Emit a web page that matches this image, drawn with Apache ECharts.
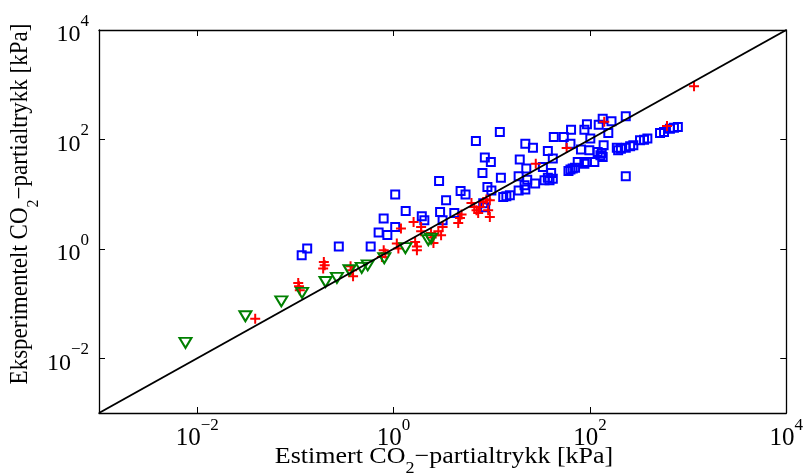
<!DOCTYPE html>
<html>
<head>
<meta charset="utf-8">
<script src="https://cdn.jsdelivr.net/npm/echarts@6/dist/echarts.min.js"></script>
<style>
  html, body { margin: 0; padding: 0; background: #fff; }
  #chart { width: 806px; height: 476px; }
</style>
</head>
<body>
<div id="chart"></div>
<script>
// Estimated vs. measured CO2 partial pressure [kPa], three data groups
const blueX = [0.116, 0.132, 0.277, 0.585, 0.705, 0.865, 0.793, 1.04, 1.04, 1.33, 1.94, 2.06, 2.91, 2.98, 3.16, 3.43, 4.16, 4.82, 5.41,
  6.90, 12.1, 8.51, 9.8, 8.05, 12.4, 9.04, 9.93, 8.19, 8.57,
  13.1, 14.1, 15.3,
  18.8, 22.0, 19.3, 22.0, 26.3, 22.5, 18.8, 23.0, 27.7, 21.6, 34.5, 33.2,
  37.3, 38.8, 41.9, 40.3,
  37.3, 41.9, 42.9, 54.2, 64.3, 63.4,
  60.5, 63.4, 66.8, 70.6,
  75.2, 81.1, 87.9, 93.3, 87.9, 93.3, 101, 98.7, 111,
  120, 128, 135, 132, 138, 123, 135, 166, 154,
  188, 194, 207, 232, 257,
  232, 232, 277, 324, 356, 385, 518, 569, 653, 718, 787];
const blueY = [0.764, 1.01, 1.11, 1.11, 1.99, 1.80, 3.57, 2.51, 9.9, 4.92, 3.94, 3.32, 17.4, 4.72, 3.33, 7.73, 4.53, 11.4, 9.9,
  93.5, 136, 46.6, 38.7, 24.3, 20.0, 13.5, 11.7, 6.8, 5.75,
  8.87, 9.14, 9.53,
  11.7, 12.1, 42.8, 83.8, 70.8, 29.3, 21.2, 18.4, 15.6, 14.5, 17.9, 31.3,
  20.0, 17.9, 19.2, 24.3,
  61.4, 44.6, 111, 111, 151, 83.8,
  26.5, 28.1, 29.3, 30.5,
  38.7, 65.2, 36.1, 38.7, 151, 189, 104, 63.1, 38.7,
  58.9, 51.3, 47.8, 56.4, 78.0, 186, 240, 214, 131,
  70.8, 63.1, 67.9, 70.8, 74.8,
  21.2, 264, 78.0, 96.4, 99.1, 104, 131, 136, 157, 164, 169];

const redX = [0.039, 0.107, 0.109, 0.111, 0.195, 0.199, 0.192, 0.365, 0.379, 0.387,
  0.762, 0.794, 0.824, 1.08, 1.12, 1.19, 1.60, 1.66, 1.73, 1.73, 1.91, 1.91,
  2.41, 2.45, 2.55, 2.86, 3.05, 3.16, 4.56, 4.75, 4.93,
  6.22, 6.64, 7.0, 7.57, 8.18, 8.83, 9.57, 9.2, 9.57, 7.28,
  28.1, 58, 140, 610, 1150];
const redY = [0.053, 0.238, 0.207, 0.175, 0.577, 0.50, 0.436, 0.481, 0.406, 0.316,
  0.711, 0.942, 0.82, 1.25, 1.01, 2.35, 3.10, 1.34, 1.11, 0.94, 2.51, 2.10,
  1.95, 1.61, 1.28, 2.10, 1.77, 2.51, 2.97, 3.66, 4.24,
  6.89, 5.82, 5.07, 5.82, 7.2, 7.94, 7.73, 5.07, 3.83, 4.53,
  36.1, 70, 210, 176, 940];

const greenX = [0.0076, 0.031, 0.072, 0.117, 0.203, 0.265, 0.356, 0.474, 0.546, 0.805, 1.32, 2.26, 2.41];
const greenY = [0.0191, 0.0587, 0.110, 0.157, 0.248, 0.294, 0.406, 0.448, 0.50, 0.673, 1.03, 1.44, 1.54];

// Parity line y = x across the full axis range
const parityLine = [0.001, 10000];

const axisMin = 0.001;
const axisMax = 10000;
const tickValues = [0.01, 1, 100];
const labelValues = [0.01, 1, 100, 10000];

const pairs = (xs, ys) => xs.map((x, i) => [x, ys[i]]);

const serif = '"Liberation Serif", "Times New Roman", serif';

function powLabel(v) {
  const e = Math.round(Math.log10(v));
  const s = e < 0 ? '\u2212' + (-e) : String(e);
  return '{b|10}{s|' + s + '}';
}

function powRich(big, small) {
  return {
    b: { fontFamily: serif, fontSize: big, color: '#000', lineHeight: 34, verticalAlign: 'bottom' },
    s: { fontFamily: serif, fontSize: small, color: '#000', lineHeight: 34, verticalAlign: 'top' }
  };
}

function baseAxis(extra) {
  return Object.assign({
    type: 'log',
    logBase: 10,
    min: axisMin,
    max: axisMax,
    splitLine: { show: false },
    axisLine: { show: true, onZero: false, lineStyle: { color: '#000', width: 1.3 } },
    axisTick: { show: true, inside: true, length: 6, customValues: tickValues, lineStyle: { color: '#000', width: 1 } },
    minorTick: { show: false }
  }, extra);
}

const chart = echarts.init(document.getElementById('chart'), null, { renderer: 'canvas' });

const hollow = (c) => ({ color: 'rgba(0,0,0,0)', borderColor: c, borderWidth: 2, opacity: 1 });

const titleRich = {
  a: { fontFamily: serif, fontSize: 23, color: '#000', lineHeight: 32, verticalAlign: 'top' },
  u: { fontFamily: serif, fontSize: 16, color: '#000', lineHeight: 32, verticalAlign: 'bottom' }
};

chart.setOption({
  animation: false,
  backgroundColor: '#fff',
  grid: { left: 99, right: 16, top: 30, bottom: 63 },
  xAxis: [
    baseAxis({
      position: 'bottom',
      axisLabel: { show: true, customValues: labelValues, margin: 4, formatter: powLabel, rich: powRich(25, 17) }
    }),
    baseAxis({ position: 'top', axisLabel: { show: false } })
  ],
  yAxis: [
    baseAxis({
      position: 'left',
      axisLabel: { show: true, customValues: labelValues, margin: 10, formatter: powLabel, rich: powRich(24, 17) }
    }),
    baseAxis({ position: 'right', axisLabel: { show: false } })
  ],
  series: [
    {
      type: 'scatter',
      data: pairs(blueX, blueY),
      symbol: 'rect',
      symbolSize: 8,
      itemStyle: hollow('#0000ff'),
      z: 2
    },
    {
      type: 'scatter',
      data: pairs(redX, redY),
      symbol: 'path://M5,0L5,10M0,5L10,5',
      symbolSize: 10,
      itemStyle: hollow('#ff0000'),
      z: 3
    },
    {
      type: 'scatter',
      data: pairs(greenX, greenY),
      symbol: 'triangle',
      symbolRotate: 180,
      symbolSize: [12, 10],
      itemStyle: hollow('#008000'),
      z: 4
    },
    {
      type: 'line',
      data: pairs(parityLine, parityLine),
      symbol: 'none',
      lineStyle: { color: '#000', width: 2 },
      silent: true,
      z: 5
    }
  ],
  graphic: [
    {
      type: 'text',
      x: 444,
      y: 445,
      scaleX: 1.13,
      style: {
        text: '{a|Estimert CO}{u|2}{a|\u2212partialtrykk [kPa]}',
        align: 'center',
        verticalAlign: 'top',
        rich: titleRich
      }
    },
    {
      type: 'text',
      x: 25,
      y: 204,
      rotation: Math.PI / 2,
      scaleY: 1.1,
      style: {
        text: '{a|Eksperimentelt CO}{u|2}{a|\u2212partialtrykk [kPa]}',
        align: 'center',
        verticalAlign: 'middle',
        rich: titleRich
      }
    }
  ]
});
</script>
</body>
</html>
